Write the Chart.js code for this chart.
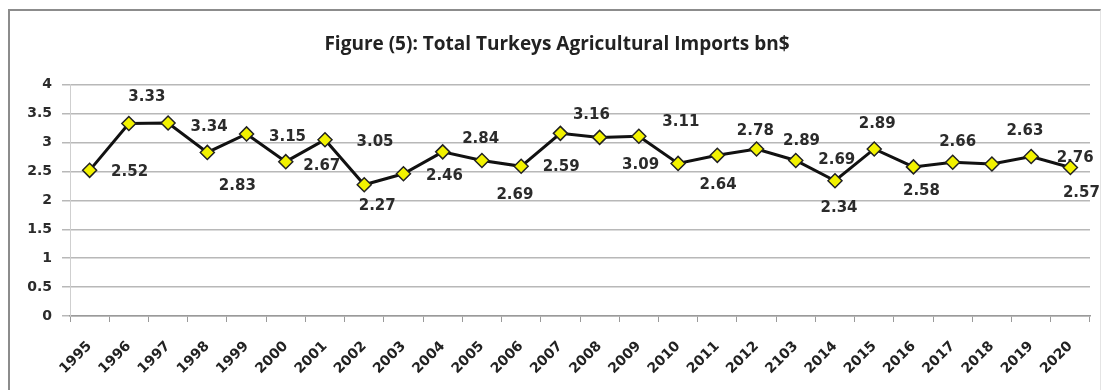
<!DOCTYPE html>
<html>
<head>
<meta charset="utf-8">
<script src="https://cdn.jsdelivr.net/npm/chart.js@4/dist/chart.umd.min.js"></script>
<style>
  html, body { margin: 0; padding: 0; background: #fff; }
  .wrap { position: relative; width: 1102px; height: 390px; overflow: hidden; }
  .frame {
    position: absolute; left: 8px; top: 9px; width: 1090px; height: 400px;
    border-left: 2px solid #8c8c8c; border-top: 2px solid #8c8c8c; border-right: 1px solid #e4e4e4;
  }
  canvas { position: absolute; left: 0; top: 0; }
</style>
</head>
<body>
<div class="wrap">
  <div class="frame"></div>
  <canvas id="grafico" width="1102" height="390"></canvas>
</div>
<script>
const titulo = 'Figure (5): Total Turkeys Agricultural Imports bn$';

const anos = ['1995', '1996', '1997', '1998', '1999', '2000', '2001', '2002', '2003', '2004',
  '2005', '2006', '2007', '2008', '2009', '2010', '2011', '2012', '2103', '2014',
  '2015', '2016', '2017', '2018', '2019', '2020'];

const importacoes = [2.52, 3.33, 3.34, 2.83, 3.15, 2.67, 3.05, 2.27, 2.46, 2.84,
  2.69, 2.59, 3.16, 3.09, 3.11, 2.64, 2.78, 2.89, 2.69, 2.34,
  2.89, 2.58, 2.66, 2.63, 2.76, 2.57];

const yTicks = [0, 0.5, 1, 1.5, 2, 2.5, 3, 3.5, 4];

// where each value label sits relative to its marker (dx, dy in px)
const desvioRotulo = [
  [40, 2], [18, -26], [41, 4], [30, 34], [41, 3], [36, 4], [50, 2], [13, 21], [41, 2], [38, -13],
  [33, 35], [40, 1], [31, -18], [41, 28], [42, -14], [40, 22], [38, -24], [45, -8], [41, 0], [4, 27],
  [3, -25], [8, 24], [5, -20], [33, -33], [44, 2], [11, 26]
];

// writes the value next to every marker
const rotulosValores = {
  id: 'rotulosValores',
  afterDatasetsDraw(chart) {
    const { ctx } = chart;
    const meta = chart.getDatasetMeta(0);
    ctx.save();
    ctx.font = 'bold 15px "DejaVu Sans"';
    ctx.fillStyle = '#2b2b2b';
    ctx.textAlign = 'center';
    ctx.textBaseline = 'middle';
    meta.data.forEach((pt, i) => {
      const [dx, dy] = desvioRotulo[i];
      ctx.fillText(importacoes[i].toFixed(2), pt.x + dx, pt.y + dy);
    });
    ctx.restore();
  }
};

new Chart(document.getElementById('grafico').getContext('2d'), {
  type: 'line',
  data: {
    labels: anos,
    datasets: [{
      data: importacoes,
      borderColor: '#111',
      borderWidth: 3,
      pointStyle: 'rectRot',
      pointRadius: 7,
      pointBackgroundColor: '#f2f200',
      pointBorderColor: '#222',
      pointBorderWidth: 1.5,
      tension: 0
    }]
  },
  options: {
    responsive: false,
    animation: false,
    layout: { padding: { left: 24, right: 12, top: 0, bottom: 0 } },
    plugins: {
      legend: { display: false },
      tooltip: { enabled: false },
      title: {
        display: true,
        text: titulo,
        color: '#222',
        font: { family: 'Open Sans', weight: 'bold', size: 19 },
        padding: { top: 33, bottom: 29 }
      }
    },
    scales: {
      x: {
        offset: true,
        grid: {
          offset: true,
          drawOnChartArea: false,
          drawTicks: true,
          tickLength: 6,
          color: '#9a9a9a'
        },
        border: { color: '#9a9a9a', width: 1.5 },
        ticks: {
          minRotation: 45,
          maxRotation: 45,
          autoSkip: false,
          color: '#222',
          padding: 16,
          font: { family: 'DejaVu Sans', weight: 'bold', size: 14 }
        },
        afterFit(scale) { scale.height = 74; }
      },
      y: {
        min: 0,
        max: 4,
        afterBuildTicks(scale) { scale.ticks = yTicks.map(v => ({ value: v })); },
        grid: { color: '#b8b8b8', lineWidth: 1.5, drawTicks: true, tickLength: 8 },
        border: { color: '#cfcfcf', width: 1 },
        ticks: {
          color: '#2b2b2b',
          padding: 10,
          font: { family: 'DejaVu Sans', weight: 'bold', size: 14 },
          callback: v => String(v)
        },
        afterFit(scale) { scale.width = 46; }
      }
    }
  },
  plugins: [rotulosValores]
});
</script>
</body>
</html>
